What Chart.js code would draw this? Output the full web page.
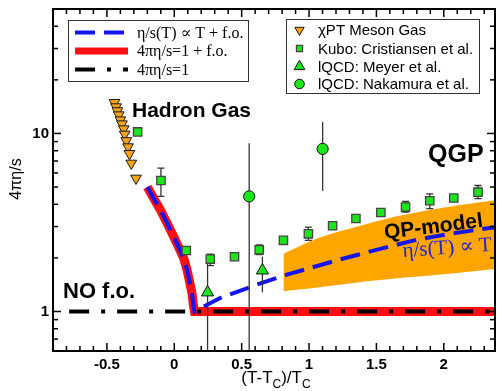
<!DOCTYPE html>
<html>
<head>
<meta charset="utf-8">
<script src="https://cdn.jsdelivr.net/npm/chart.js@4.4.0/dist/chart.umd.min.js"></script>
<style>
html,body{margin:0;padding:0;background:#fff;}
canvas{display:block;}
</style>
</head>
<body>
<canvas id="my-chart" width="497" height="391"></canvas>
<script>
//==========
// Data

// chiPT meson gas
const mesonX = [-0.444, -0.432, -0.422, -0.412, -0.400, -0.388, -0.375, -0.368, -0.356, -0.343, -0.333, -0.319, -0.284];
const mesonY = [14.9, 14.1, 13.4, 12.7, 11.9, 11.3, 10.6, 9.9, 9.1, 8.4, 7.7, 6.8, 5.6];

// Kubo: Cristiansen et al.
const kuboX  = [-0.272, -0.099, 0.089, 0.267, 0.447, 0.630, 0.810, 0.995, 1.175, 1.348, 1.533, 1.716, 1.896, 2.074, 2.254];
const kuboY  = [10.2, 5.44, 2.20, 1.97, 2.03, 2.22, 2.51, 2.73, 3.03, 3.33, 3.60, 3.86, 4.19, 4.34, 4.68];
const kuboLo = [10.2, 4.43, 2.13, 1.81, 2.00, 2.09, 2.43, 2.51, 2.95, 3.20, 3.48, 3.62, 3.78, 4.20, 4.30];
const kuboHi = [10.2, 6.38, 2.27, 2.10, 2.06, 2.37, 2.60, 2.98, 3.12, 3.46, 3.72, 4.15, 4.58, 4.50, 5.10];

// lQCD: Meyer et al.
const meyerX  = [0.247, 0.654];
const meyerY  = [1.28, 1.70];
const meyerLo = [0.3, 1.28];
const meyerHi = [1.85, 2.03];

// lQCD: Nakamura et al.
const nakaX  = [0.556, 1.101];
const nakaY  = [4.43, 8.19];
const nakaLo = [0.3, 4.76];
const nakaHi = [8.8, 11.6];

// hadron side curve (shared by both f.o. curves)
const hadronX = [-0.200, -0.153, -0.104, -0.054, -0.005, 0.032, 0.069, 0.094, 0.113, 0.131, 0.143, 0.150];
const hadronY = [5.00, 4.33, 3.73, 3.14, 2.64, 2.30, 2.00, 1.72, 1.48, 1.27, 1.07, 1.00];

// eta/s ~ T on the QGP side
const qgpX = [0.34, 0.613, 0.835, 1.23, 1.55, 1.80, 2.044, 2.40];
const qgpY = [1.19, 1.416, 1.61, 1.96, 2.27, 2.53, 2.73, 2.99];

// 4pi eta/s = 1
const flatX = [-0.78, 2.45];
const flatY = [1, 1];
const redFlatX = [2.45];
const redFlatY = [1];

// QP-model band
const bandX  = [0.81, 1.08, 1.38, 1.67, 2.04, 2.40];
const bandHi = [2.11, 2.60, 3.03, 3.45, 3.88, 4.24];
const bandLo = [1.30, 1.37, 1.46, 1.54, 1.63, 1.74];

// ticks
const xTicks  = [-0.8, -0.7, -0.6, -0.5, -0.4, -0.3, -0.2, -0.1, 0, 0.1, 0.2, 0.3, 0.4, 0.5, 0.6, 0.7, 0.8, 0.9, 1, 1.1, 1.2, 1.3, 1.4, 1.5, 1.6, 1.7, 1.8, 1.9, 2, 2.1, 2.2, 2.3];
const xLabels = [-0.5, 0, 0.5, 1, 1.5, 2];
const yTicks  = [0.7, 0.8, 0.9, 1, 2, 3, 4, 5, 6, 7, 8, 9, 10, 20, 30, 40];
const yLabels = [1, 10];

//==========
// Styles

const SANS = "'Liberation Sans', Arial, sans-serif";
const SERIF = "'Liberation Serif', 'DejaVu Serif', serif";
const GREEN = "#1ae61a";
const ORANGE = "#f7a21b";
const BLUE = "#1414f0";

function pts(xs, ys){
	return xs.map((x, i)=>({x: x, y: ys[i]}));
}

const mesonSet = {label: "χPT Meson Gas", data: pts(mesonX, mesonY), showLine: false,
	pointStyle: "triangle", rotation: 180, pointRadius: 6.2, backgroundColor: ORANGE, borderColor: "#1a1a1a", borderWidth: 1};
const kuboSet = {label: "Kubo: Cristiansen et al.", data: pts(kuboX, kuboY), showLine: false, errLo: kuboLo, errHi: kuboHi, cap: 3.5,
	pointStyle: "rect", pointRadius: 5.9, backgroundColor: GREEN, borderColor: "#444", borderWidth: 1.3};
const meyerSet = {label: "lQCD: Meyer et al.", data: pts(meyerX, meyerY), showLine: false, errLo: meyerLo, errHi: meyerHi, cap: 0,
	pointStyle: "triangle", pointRadius: 7, backgroundColor: GREEN, borderColor: "#111", borderWidth: 1};
const nakaSet = {label: "lQCD: Nakamura et al.", data: pts(nakaX, nakaY), showLine: false, errLo: nakaLo, errHi: nakaHi, cap: 0,
	pointStyle: "circle", pointRadius: 5.6, backgroundColor: GREEN, borderColor: "#111", borderWidth: 1};
const blueSet = {label: "η/s(T) ∝ T + f.o.", data: pts(hadronX.concat(qgpX), hadronY.concat(qgpY)), showLine: true,
	borderColor: BLUE, borderWidth: 4, borderDash: [20, 9], pointRadius: 0, tension: 0};
const blackSet = {label: "4πη/s=1", data: pts(flatX, flatY), showLine: true,
	borderColor: "#000", borderWidth: 4, borderDash: [20, 12, 4, 12], pointRadius: 0};
const redSet = {label: "4πη/s=1 + f.o.", data: pts(hadronX.concat(redFlatX), hadronY.concat(redFlatY)), showLine: true,
	borderColor: "#ff1010", borderWidth: 9, pointRadius: 0, tension: 0};
const bandHiSet = {label: "QP-model", data: pts(bandX, bandHi), showLine: true, fill: "+1",
	backgroundColor: "#ffa500", borderWidth: 0, pointRadius: 0, tension: 0.3};
const bandLoSet = {label: "QP-model low", data: pts(bandX, bandLo), showLine: true, fill: false,
	borderWidth: 0, pointRadius: 0, tension: 0.3};

//==========
// Plugins

// error bars, drawn just before their own markers
const errorBars = {
	id: "errorBars",
	beforeDatasetDraw(chart, args){
		const ds = chart.data.datasets[args.index];
		if(!ds.errLo) return;
		const {ctx, chartArea: a, scales: {x, y}} = chart;
		ctx.save();
		ctx.beginPath();
		ctx.rect(a.left, a.top, a.right - a.left, a.bottom - a.top);
		ctx.clip();
		ctx.strokeStyle = "#333";
		ctx.lineWidth = 1.3;
		for(let i=0; i<ds.data.length; i++){
			const px = x.getPixelForValue(ds.data[i].x);
			const lo = y.getPixelForValue(ds.errLo[i]);
			const hi = y.getPixelForValue(ds.errHi[i]);
			ctx.beginPath();
			ctx.moveTo(px, lo); ctx.lineTo(px, hi);
			if(ds.cap){
				ctx.moveTo(px - ds.cap, lo); ctx.lineTo(px + ds.cap, lo);
				ctx.moveTo(px - ds.cap, hi); ctx.lineTo(px + ds.cap, hi);
			}
			ctx.stroke();
		}
		ctx.restore();
	}
};

function seg(ctx, x1, y1, x2, y2){
	ctx.beginPath(); ctx.moveTo(x1, y1); ctx.lineTo(x2, y2); ctx.stroke();
}

// frame, inward ticks, texts and the two legends
const decor = {
	id: "decor",
	afterDatasetsDraw(chart){
		const {ctx, chartArea: a, scales: {x, y}} = chart;
		ctx.save();
		ctx.strokeStyle = "#000";
		ctx.lineWidth = 1.5;
		for(const v of xTicks){
			const px = x.getPixelForValue(v);
			const len = xLabels.includes(v) ? 8 : 5;
			seg(ctx, px, a.bottom, px, a.bottom - len);
			seg(ctx, px, a.top, px, a.top + len);
		}
		for(const v of yTicks){
			const py = y.getPixelForValue(v);
			const len = yLabels.includes(v) ? 8 : 5;
			seg(ctx, a.left, py, a.left + len, py);
			seg(ctx, a.right, py, a.right - len, py);
		}
		ctx.lineWidth = 2;
		ctx.strokeRect(a.left, a.top, a.right - a.left, a.bottom - a.top);

		// annotations
		ctx.fillStyle = "#000";
		ctx.textAlign = "left";
		ctx.textBaseline = "alphabetic";
		ctx.font = "bold 21px " + SANS;
		ctx.fillText("Hadron Gas", 132, 117);
		ctx.font = "bold 25px " + SANS;
		ctx.fillText("QGP", 428, 162);
		ctx.font = "bold 22px " + SANS;
		ctx.fillText("NO f.o.", 63, 298);

		ctx.save();
		ctx.translate(385, 239);
		ctx.rotate(-7 * Math.PI / 180);
		ctx.font = "bold 21px " + SANS;
		ctx.fillText("QP-model", 0, 0);
		ctx.restore();

		ctx.save();
		ctx.translate(403, 257);
		ctx.rotate(-4 * Math.PI / 180);
		ctx.fillStyle = "#2222dd";
		ctx.font = "21px " + SERIF;
		ctx.fillText("η/s(T) ∝ T", 0, 0);
		ctx.restore();

		// axis titles
		ctx.save();
		ctx.translate(21, 179);
		ctx.rotate(-Math.PI / 2);
		ctx.textAlign = "center";
		ctx.font = "16px " + SANS;
		ctx.fillText("4πη/s", 0, 0);
		ctx.restore();

		const big = "17px " + SANS, small = "12px " + SANS;
		const parts = [["(T-T", big, 0], ["C", small, 5], [")/T", big, 0], ["C", small, 5]];
		let total = 0;
		for(const p of parts){ ctx.font = p[1]; total += ctx.measureText(p[0]).width; }
		let tx = (a.left + a.right) / 2 + 2 - total / 2;
		for(const p of parts){
			ctx.font = p[1];
			ctx.fillText(p[0], tx, 383 + p[2]);
			tx += ctx.measureText(p[0]).width;
		}

		drawLegends(ctx);
		ctx.restore();
	}
};

function drawLegends(ctx){
	// lines
	ctx.fillStyle = "#fff";
	ctx.fillRect(68, 20, 180, 62);
	ctx.strokeStyle = "#333";
	ctx.lineWidth = 1;
	ctx.setLineDash([]);
	ctx.strokeRect(68.5, 20.5, 180, 61);
	const lineRows = [[blueSet, 32.5], [redSet, 51], [blackSet, 69.5]];
	ctx.font = "16px " + SERIF;
	ctx.textBaseline = "middle";
	for(const [ds, ry] of lineRows){
		ctx.save();
		ctx.strokeStyle = ds.borderColor;
		ctx.lineWidth = ds === redSet ? 7 : ds.borderWidth;
		ctx.setLineDash(ds.borderDash || []);
		seg(ctx, 75, ry, 128, ry);
		ctx.restore();
		ctx.fillStyle = "#000";
		ctx.fillText(ds.label, 137, ry + 1);
	}

	// markers
	ctx.fillStyle = "#fff";
	ctx.fillRect(286, 19, 193, 75);
	ctx.strokeStyle = "#333";
	ctx.lineWidth = 1;
	ctx.strokeRect(286.5, 19.5, 193, 74);
	const markRows = [[mesonSet, 30, 5.4], [kuboSet, 48.5, 4.3], [meyerSet, 66.5, 6.2], [nakaSet, 84, 4.8]];
	ctx.font = "15px " + SANS;
	for(const [ds, ry, r] of markRows){
		ctx.fillStyle = ds.backgroundColor;
		ctx.strokeStyle = ds.borderColor;
		ctx.lineWidth = ds.borderWidth;
		Chart.helpers.drawPoint(ctx, {pointStyle: ds.pointStyle, rotation: ds.rotation || 0, radius: r, borderWidth: ds.borderWidth}, 299.5, ry);
		ctx.fillStyle = "#000";
		ctx.fillText(ds.label, 318, ry + 1);
	}
}

//==========
// Chart

const ctx = document.getElementById("my-chart").getContext("2d");
const myChart = new Chart(ctx, {
	type: "scatter",
	data: {
		datasets: [nakaSet, meyerSet, kuboSet, mesonSet, blueSet, blackSet, redSet, bandHiSet, bandLoSet]
	},
	options: {
		responsive: false,
		animation: false,
		events: [],
		layout: {autoPadding: false, padding: {left: 0, right: 2, top: 9, bottom: 0}},
		plugins: {legend: {display: false}, tooltip: {enabled: false}},
		scales: {
			x: {
				type: "linear", min: -0.9, max: 2.38,
				grid: {display: false, drawTicks: false},
				border: {display: false},
				afterBuildTicks: s=>{ s.ticks = xTicks.map(v=>({value: v})); },
				afterFit: s=>{ s.height = 40; s.paddingLeft = 0; s.paddingRight = 0; },
				ticks: {
					autoSkip: false, maxRotation: 0, padding: 5, color: "#000",
					font: {family: SANS, size: 15, weight: "bold"},
					callback: v=>xLabels.includes(v) ? String(v) : ""
				}
			},
			y: {
				type: "logarithmic", min: 0.6, max: 50,
				grid: {display: false, drawTicks: false},
				border: {display: false},
				afterBuildTicks: s=>{ s.ticks = yTicks.map(v=>({value: v})); },
				afterFit: s=>{ s.width = 53; s.paddingTop = 0; s.paddingBottom = 0; },
				ticks: {
					autoSkip: false, padding: 4, color: "#000",
					font: {family: SANS, size: 15, weight: "bold"},
					callback: v=>yLabels.includes(v) ? String(v) : ""
				}
			}
		}
	},
	plugins: [errorBars, decor]
});
</script>
</body>
</html>
